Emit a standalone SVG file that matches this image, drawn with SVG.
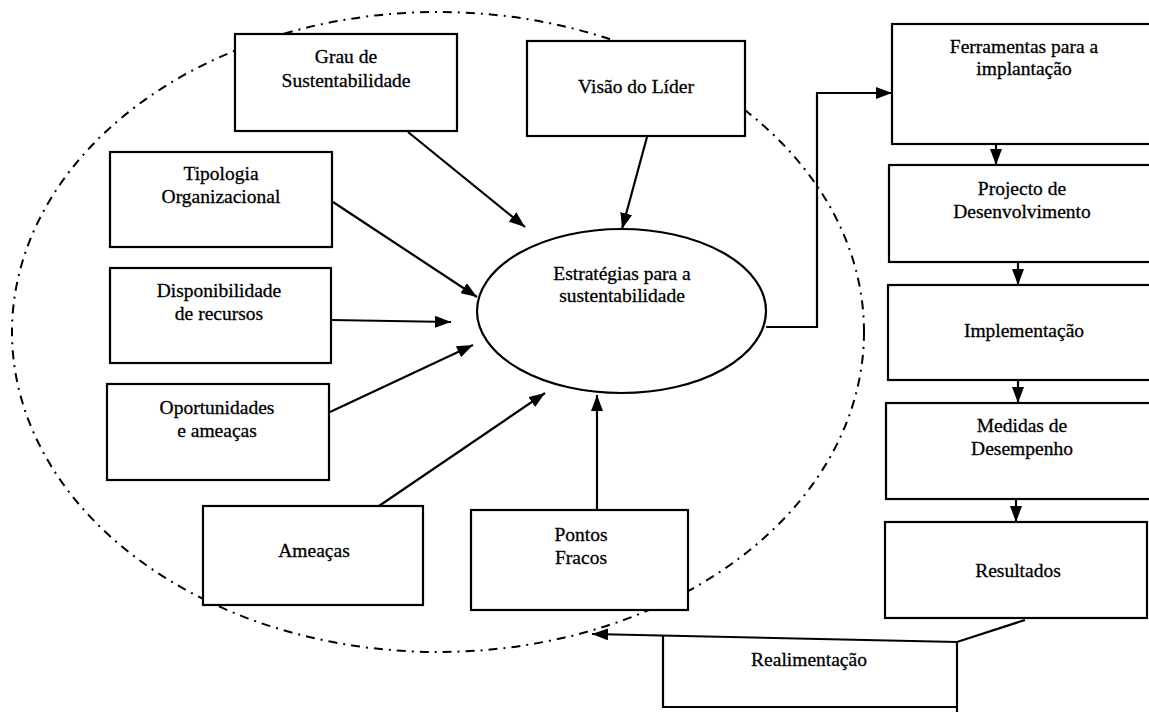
<svg xmlns="http://www.w3.org/2000/svg" width="1149" height="712" viewBox="0 0 1149 712">
<defs>
<style>
.box{fill:#fff;stroke:#000;stroke-width:2.2}
.t{font-family:"Liberation Serif","Times New Roman",serif;font-size:19.5px;fill:#000;text-anchor:middle;stroke:#000;stroke-width:0.3}
.c{fill:none;stroke:#000;stroke-width:2.2}
.boundary{fill:none;stroke:#000;stroke-width:2;stroke-dasharray:9 6 2 6}
</style>
<marker id="ah" viewBox="0 0 16 12" refX="16" refY="6" markerWidth="16" markerHeight="12" markerUnits="userSpaceOnUse" orient="auto">
<path d="M0,0 L16,6 L0,12 z" fill="#000"/>
</marker>
</defs>
<rect width="1149" height="712" fill="#fff"/>
<ellipse id="boundary" class="boundary" cx="438" cy="332" rx="426" ry="320"/>
<g id="connectors">
<line class="c" x1="408" y1="132" x2="525" y2="227" marker-end="url(#ah)"/>
<line class="c" x1="647" y1="137" x2="622" y2="229" marker-end="url(#ah)"/>
<line class="c" x1="333" y1="202" x2="477" y2="297" marker-end="url(#ah)"/>
<line class="c" x1="331" y1="320" x2="451" y2="322" marker-end="url(#ah)"/>
<line class="c" x1="330" y1="412" x2="473" y2="345" marker-end="url(#ah)"/>
<line class="c" x1="376" y1="508" x2="545" y2="393" marker-end="url(#ah)"/>
<line class="c" x1="597" y1="510" x2="597" y2="395" marker-end="url(#ah)"/>
<polyline class="c" points="766,327 817,327 817,93 892,93" marker-end="url(#ah)"/>
<line class="c" x1="996" y1="142" x2="996" y2="165" marker-end="url(#ah)"/>
<line class="c" x1="1018" y1="262" x2="1018" y2="285" marker-end="url(#ah)"/>
<line class="c" x1="1018" y1="380" x2="1018" y2="403" marker-end="url(#ah)"/>
<line class="c" x1="1016" y1="498" x2="1016" y2="522" marker-end="url(#ah)"/>
<polyline class="c" points="1025,620 957,642 592,634" marker-end="url(#ah)"/>
</g>
<g id="grau"><rect class="box" x="235" y="34" width="222" height="97"/><text class="t" x="346" y="63">Grau de</text><text class="t" x="346" y="87">Sustentabilidade</text></g>
<g id="visao"><rect class="box" x="527" y="41" width="218" height="95"/><text class="t" x="636" y="93">Visão do Líder</text></g>
<g id="tipologia"><rect class="box" x="110" y="152" width="222" height="95"/><text class="t" x="221" y="180">Tipologia</text><text class="t" x="221" y="203">Organizacional</text></g>
<g id="disponibilidade"><rect class="box" x="110" y="268" width="221" height="95"/><text class="t" x="219" y="297">Disponibilidade</text><text class="t" x="219" y="320">de recursos</text></g>
<g id="oportunidades"><rect class="box" x="107" y="384" width="222" height="96"/><text class="t" x="217" y="414">Oportunidades</text><text class="t" x="217" y="437">e ameaças</text></g>
<g id="ameacas"><rect class="box" x="203" y="506" width="220" height="99"/><text class="t" x="314" y="557">Ameaças</text></g>
<g id="pontos"><rect class="box" x="471" y="510" width="217" height="100"/><text class="t" x="581" y="541">Pontos</text><text class="t" x="581" y="564">Fracos</text></g>
<g id="estrategias"><ellipse class="box" cx="621.5" cy="311" rx="144.5" ry="82"/><text class="t" x="622" y="280">Estratégias para a</text><text class="t" x="622" y="302">sustentabilidade</text></g>
<g id="ferramentas"><rect class="box" x="892" y="24" width="270" height="120"/><text class="t" x="1024" y="53">Ferramentas para a</text><text class="t" x="1024" y="75">implantação</text></g>
<g id="projecto"><rect class="box" x="889" y="165" width="273" height="97"/><text class="t" x="1022" y="195">Projecto de</text><text class="t" x="1022" y="218">Desenvolvimento</text></g>
<g id="implementacao"><rect class="box" x="888" y="285" width="274" height="95"/><text class="t" x="1024" y="337">Implementação</text></g>
<g id="medidas"><rect class="box" x="886" y="403" width="276" height="96"/><text class="t" x="1022" y="432">Medidas de</text><text class="t" x="1022" y="455">Desempenho</text></g>
<g id="resultados"><rect class="box" x="885" y="522" width="262" height="96"/><text class="t" x="1018" y="577">Resultados</text></g>
<g id="realimentacao"><polyline class="c" points="663,636 663,707 957,707"/><line class="c" x1="957" y1="642" x2="957" y2="712"/><text class="t" x="809" y="666">Realimentação</text></g>
</svg>
